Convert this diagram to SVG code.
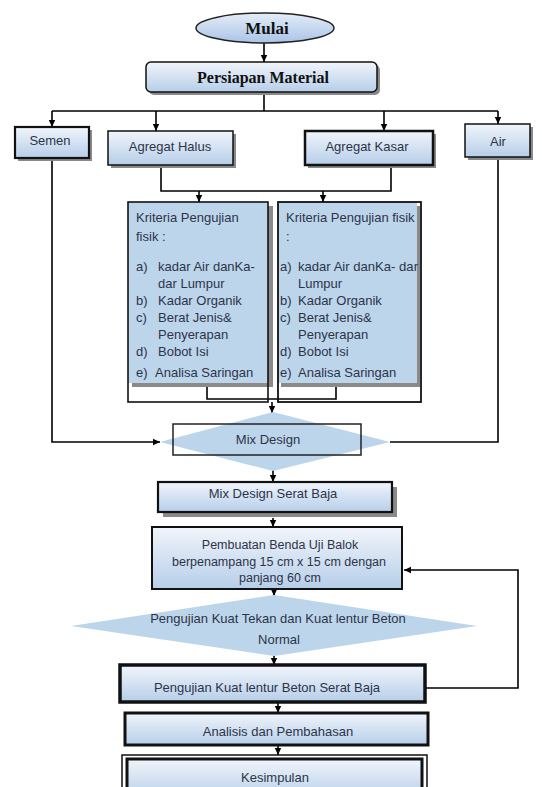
<svg xmlns="http://www.w3.org/2000/svg" width="542" height="787" viewBox="0 0 542 787">
<defs>
<linearGradient id="g" x1="0" y1="0" x2="0" y2="1">
<stop offset="0" stop-color="#f1f5fb"/>
<stop offset="1" stop-color="#b6cee9"/>
</linearGradient>
<linearGradient id="ge" x1="0" y1="0" x2="0" y2="1">
<stop offset="0" stop-color="#e4edf8"/>
<stop offset="1" stop-color="#a9c4e6"/>
</linearGradient>
<marker id="a" markerUnits="userSpaceOnUse" markerWidth="8" markerHeight="8" refX="7" refY="4" orient="auto">
<path d="M0,0.8 L7,4 L0,7.2 Z" fill="#000"/>
</marker>
</defs>
<style>
text{font-family:"Liberation Sans",Arial,sans-serif;font-size:13px;fill:#2d3449}
.c{text-anchor:middle}
.t{font-family:"Liberation Serif","Times New Roman",serif;font-weight:bold;fill:#111}
.conn path{fill:none;stroke:#000;stroke-width:1.6}
.box{fill:url(#g);stroke:#111}
.sh{fill:#8a8a8a}
.blue{fill:#bcd5ea}
</style>
<rect width="542" height="787" fill="#fff"/>
<g class="conn">
<path d="M264,43 V62" marker-end="url(#a)"/>
<path d="M264,92 V111"/>
<path d="M52,111 H498"/>
<path d="M52,111 V127" marker-end="url(#a)"/>
<path d="M156,111 V131" marker-end="url(#a)"/>
<path d="M384,111 V131" marker-end="url(#a)"/>
<path d="M498,111 V124" marker-end="url(#a)"/>
<path d="M52,158 V442 H160" marker-end="url(#a)"/>
<path d="M498,157 V442 H390"/>
<path d="M161,165 V191 H391 V165"/>
<path d="M199,191 V202" marker-end="url(#a)"/>
<path d="M323,191 V202" marker-end="url(#a)"/>
<path d="M207,384 V399 H336 V384"/>
<path d="M272,402 V413" marker-end="url(#a)"/>
<path d="M273,470 V482" marker-end="url(#a)"/>
<path d="M273,518 V527" marker-end="url(#a)"/>
<path d="M274,589 V596" marker-end="url(#a)"/>
<path d="M274,656 V665" marker-end="url(#a)"/>
<path d="M278,702 V713" marker-end="url(#a)"/>
<path d="M278,745 V755" marker-end="url(#a)"/>
<path d="M425,688 H518 V570 H404" marker-end="url(#a)"/>
</g>
<g id="mulai">
<ellipse cx="265" cy="28" rx="69" ry="15" fill="url(#ge)" stroke="#222" stroke-width="1.5"/>
<text class="c t" x="267" y="34" style="font-size:17px">Mulai</text>
</g>
<g id="persiapan">
<rect class="sh" x="149" y="65" width="231" height="30" rx="5"/>
<rect class="box" x="146" y="62" width="231" height="30" rx="5" stroke-width="1.5"/>
<text class="c t" x="263" y="83" style="font-size:16px">Persiapan Material</text>
</g>
<g id="semen">
<rect class="sh" x="18" y="130" width="74" height="31"/>
<rect class="box" x="15" y="127" width="74" height="31" stroke-width="2.2"/>
<text class="c" x="50" y="145">Semen</text>
</g>
<g id="agregat-halus">
<rect class="sh" x="111" y="134" width="125" height="34"/>
<rect class="box" x="108" y="131" width="125" height="34" stroke-width="1.5"/>
<text class="c" x="170" y="151">Agregat Halus</text>
</g>
<g id="agregat-kasar">
<rect class="sh" x="308" y="134" width="128" height="34"/>
<rect class="box" x="305" y="131" width="128" height="34" stroke-width="2.5"/>
<text class="c" x="367" y="151">Agregat Kasar</text>
</g>
<g id="air">
<rect class="sh" x="468" y="127" width="65" height="33"/>
<rect class="box" x="465" y="124" width="65" height="33" stroke-width="1.5"/>
<text class="c" x="498" y="146">Air</text>
</g>
<g id="kriteria-halus">
<rect class="sh" x="132" y="206" width="141" height="181"/>
<rect class="blue" x="128" y="202" width="140" height="181"/>
<rect x="128" y="202" width="140" height="200" fill="none" stroke="#111" stroke-width="1.6"/>
<text x="136" y="222">Kriteria Pengujian</text>
<text x="136" y="241">fisik :</text>
<text x="136" y="271">a)</text><text x="158" y="271">kadar Air danKa-</text>
<text x="158" y="288">dar Lumpur</text>
<text x="136" y="305">b)</text><text x="158" y="305">Kadar Organik</text>
<text x="136" y="322">c)</text><text x="158" y="322">Berat Jenis&amp;</text>
<text x="158" y="339">Penyerapan</text>
<text x="136" y="356">d)</text><text x="158" y="356">Bobot Isi</text>
<text x="136" y="377">e)</text><text x="155" y="377">Analisa Saringan</text>
</g>
<g id="kriteria-kasar">
<rect class="sh" x="281" y="206" width="139" height="181"/>
<rect class="blue" x="278" y="202" width="139" height="181"/>
<rect x="278" y="202" width="143" height="200" fill="none" stroke="#111" stroke-width="1.8"/>
<text x="286" y="222">Kriteria Pengujian fisik</text>
<text x="286" y="241">:</text>
<text x="280" y="271">a)</text><text x="298" y="271" textLength="120" lengthAdjust="spacingAndGlyphs">kadar Air danKa- dar</text>
<text x="298" y="288">Lumpur</text>
<text x="280" y="305">b)</text><text x="298" y="305">Kadar Organik</text>
<text x="280" y="322">c)</text><text x="298" y="322">Berat Jenis&amp;</text>
<text x="298" y="339">Penyerapan</text>
<text x="280" y="356">d)</text><text x="298" y="356">Bobot Isi</text>
<text x="280" y="377">e)</text><text x="298" y="377">Analisa Saringan</text>
</g>
<g id="mix-design">
<polygon class="blue" points="160,442 273,412 390,442 273,471"/>
<rect x="173" y="424" width="188" height="31" fill="none" stroke="#222" stroke-width="1.5"/>
<text class="c" x="268" y="444">Mix Design</text>
</g>
<g id="mix-design-serat-baja">
<rect class="sh" x="163" y="487" width="234" height="30"/>
<rect class="box" x="158" y="482" width="234" height="30" stroke-width="2.2"/>
<text class="c" x="273" y="498">Mix Design Serat Baja</text>
</g>
<g id="pembuatan">
<rect class="box" x="152" y="527" width="250" height="62" stroke-width="2"/>
<text class="c" x="280" y="549" style="font-size:12.5px">Pembuatan Benda Uji Balok</text>
<text class="c" x="279" y="566" style="font-size:12.5px">berpenampang 15 cm x 15 cm dengan</text>
<text class="c" x="280" y="582" style="font-size:12.5px">panjang 60 cm</text>
</g>
<g id="pengujian-normal">
<polygon class="blue" points="71,626 274,595 477,626 274,656"/>
<text class="c" x="278" y="623">Pengujian Kuat Tekan dan Kuat lentur Beton</text>
<text class="c" x="279" y="644">Normal</text>
</g>
<g id="pengujian-serat">
<rect class="box" x="120" y="665" width="305" height="37" stroke-width="3.5"/>
<text class="c" x="267" y="692">Pengujian Kuat lentur Beton Serat Baja</text>
</g>
<g id="analisis">
<rect class="box" x="125" y="713" width="303" height="32" stroke-width="3"/>
<text class="c" x="278" y="736">Analisis dan Pembahasan</text>
</g>
<g id="kesimpulan">
<rect x="122" y="755" width="305" height="45" fill="none" stroke="#111" stroke-width="1.5"/>
<rect class="box" x="127" y="759" width="295" height="40" stroke-width="3"/>
<text class="c" x="275" y="782">Kesimpulan</text>
</g>
</svg>
